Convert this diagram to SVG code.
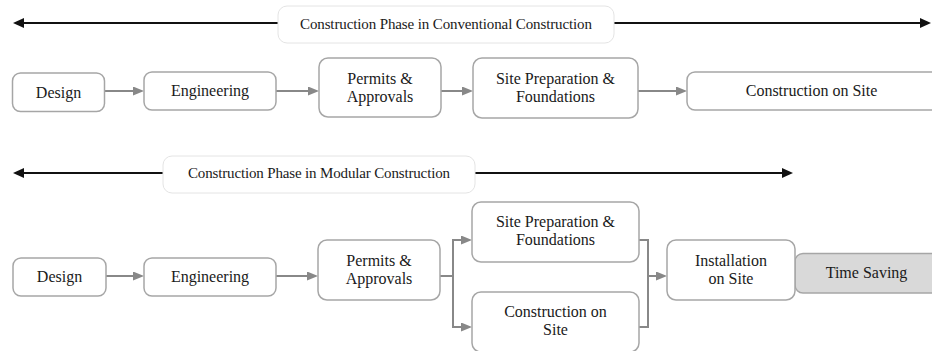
<svg xmlns="http://www.w3.org/2000/svg" width="932" height="351" viewBox="0 0 932 351">
  <style>
    text { font-family: "Liberation Serif", "Times New Roman", "DejaVu Serif", serif; fill: #1a1a1a; text-anchor: middle; }
    .label { font-size: 16px; }
    .title { font-size: 15px; }
    .box { fill: #ffffff; stroke: #a6a6a6; stroke-width: 1.5; }
    .shade { fill: #d9d9d9; stroke: #a6a6a6; stroke-width: 1.5; }
    .tbox { fill: #ffffff; stroke: #e4e4e4; stroke-width: 1; }
    .flow { fill: none; stroke: #888888; stroke-width: 2; }
    .phase { fill: none; stroke: #111111; stroke-width: 2; }
  </style>
  <defs>
    <marker id="grayHead" viewBox="0 0 11 9" refX="7" refY="4.5" markerWidth="11" markerHeight="9" markerUnits="userSpaceOnUse" orient="auto">
      <path d="M0,0 L11,4.5 L0,9 z" fill="#888888"/>
    </marker>
    <marker id="blackHead" viewBox="0 0 11 10" refX="7" refY="5" markerWidth="11" markerHeight="10" markerUnits="userSpaceOnUse" orient="auto">
      <path d="M0,0 L11,5 L0,10 z" fill="#111111"/>
    </marker>
  </defs>

  <!-- phase span arrows and flow connectors -->
  <g id="connectors">
    <path class="phase" d="M278,23 L17,23" marker-end="url(#blackHead)"/>
    <path class="phase" d="M614,23 L927,23" marker-end="url(#blackHead)"/>
    <path class="phase" d="M163,173 L17,173" marker-end="url(#blackHead)"/>
    <path class="phase" d="M475,173 L789,173" marker-end="url(#blackHead)"/>

    <!-- conventional row -->
    <path class="flow" d="M105,91 L140,91" marker-end="url(#grayHead)"/>
    <path class="flow" d="M276,91 L315,91" marker-end="url(#grayHead)"/>
    <path class="flow" d="M441,91 L469,91" marker-end="url(#grayHead)"/>
    <path class="flow" d="M638,91 L683,91" marker-end="url(#grayHead)"/>

    <!-- modular row -->
    <path class="flow" d="M106,276 L140,276" marker-end="url(#grayHead)"/>
    <path class="flow" d="M276,276 L314,276" marker-end="url(#grayHead)"/>
    <path class="flow" d="M440,276 L453,276"/>
    <path class="flow" d="M453,240 L453,327"/>
    <path class="flow" d="M452,240 L468,240" marker-end="url(#grayHead)"/>
    <path class="flow" d="M452,327 L468,327" marker-end="url(#grayHead)"/>
    <path class="flow" d="M639,240 L648,240 L648,327 L639,327"/>
    <path class="flow" d="M648,276 L663,276" marker-end="url(#grayHead)"/>
  </g>

  <!-- phase titles -->
  <g id="title-conventional">
    <rect class="tbox" x="278" y="6" width="336" height="37" rx="9"/>
    <text class="title" x="446" y="29" textLength="292" lengthAdjust="spacing">Construction Phase in Conventional Construction</text>
  </g>
  <g id="title-modular">
    <rect class="tbox" x="163" y="156" width="312" height="37" rx="9"/>
    <text class="title" x="319" y="178" textLength="262" lengthAdjust="spacing">Construction Phase in Modular Construction</text>
  </g>

  <!-- conventional construction sequence -->
  <g id="c-design">
    <rect class="box" x="12.5" y="73" width="92" height="38.5" rx="8"/>
    <text class="label" x="58.5" y="97.5">Design</text>
  </g>
  <g id="c-engineering">
    <rect class="box" x="144" y="72" width="132" height="38" rx="8"/>
    <text class="label" x="210" y="96">Engineering</text>
  </g>
  <g id="c-permits">
    <rect class="box" x="319" y="58" width="122" height="59" rx="9"/>
    <text class="label" x="380" y="83.5">Permits &amp;</text>
    <text class="label" x="380" y="101.5">Approvals</text>
  </g>
  <g id="c-siteprep">
    <rect class="box" x="473" y="58" width="165" height="60" rx="9"/>
    <text class="label" x="555.5" y="83.5">Site Preparation &amp;</text>
    <text class="label" x="555.5" y="101.5">Foundations</text>
  </g>
  <g id="c-construction">
    <rect class="box" x="687" y="72" width="260" height="38" rx="8"/>
    <text class="label" x="811.5" y="96">Construction on Site</text>
  </g>

  <!-- modular construction sequence -->
  <g id="m-design">
    <rect class="box" x="13" y="258" width="93" height="38" rx="8"/>
    <text class="label" x="59.5" y="282">Design</text>
  </g>
  <g id="m-engineering">
    <rect class="box" x="144" y="258" width="132" height="38" rx="8"/>
    <text class="label" x="210" y="282">Engineering</text>
  </g>
  <g id="m-permits">
    <rect class="box" x="318" y="240" width="122" height="60" rx="9"/>
    <text class="label" x="379" y="265.5">Permits &amp;</text>
    <text class="label" x="379" y="283.5">Approvals</text>
  </g>
  <g id="m-siteprep">
    <rect class="box" x="472" y="202" width="167" height="60" rx="9"/>
    <text class="label" x="555.5" y="226.5">Site Preparation &amp;</text>
    <text class="label" x="555.5" y="244.5">Foundations</text>
  </g>
  <g id="m-construction">
    <rect class="box" x="472" y="292" width="167" height="60" rx="9"/>
    <text class="label" x="555.5" y="317">Construction on</text>
    <text class="label" x="555.5" y="335">Site</text>
  </g>
  <g id="m-timesaving">
    <rect class="shade" x="795" y="253.5" width="150" height="39.5" rx="8"/>
    <text class="label" x="866.5" y="278">Time Saving</text>
  </g>
  <g id="m-installation">
    <rect class="box" x="667" y="240" width="128" height="60" rx="9"/>
    <text class="label" x="731" y="265.5">Installation</text>
    <text class="label" x="731" y="283.5">on Site</text>
  </g>
</svg>
